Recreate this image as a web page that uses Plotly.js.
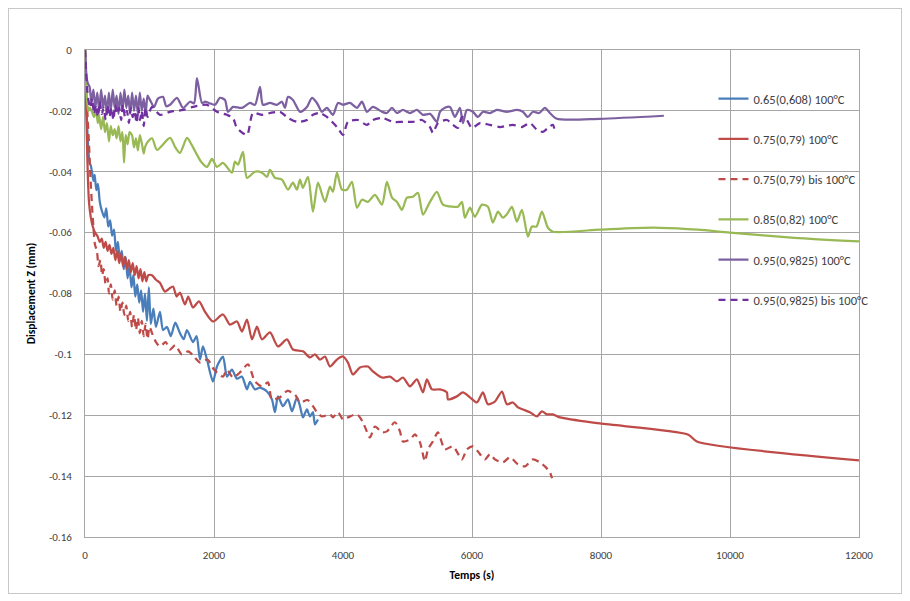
<!DOCTYPE html>
<html>
<head>
<meta charset="utf-8">
<script src="https://cdn.plot.ly/plotly-3.0.1.min.js"></script>
<style>
  html, body { margin: 0; padding: 0; background: #ffffff; }
  #wrap { position: relative; width: 910px; height: 601px; }
  #chart { width: 910px; height: 601px; }
  #frame { position: absolute; left: 8px; top: 8px; width: 892px; height: 584px;
           border: 1px solid #c8c8c8; pointer-events: none; }
</style>
</head>
<body>
<div id="wrap"><div id="chart"></div><div id="frame"></div></div>
<script>
// ---------- DATA (time in s, displacement in mm) ----------
const seriesNames = [
  "0.65(0,608) 100°C",
  "0.75(0,79) 100°C",
  "0.75(0,79) bis 100°C",
  "0.85(0,82) 100°C",
  "0.95(0,9825) 100°C",
  "0.95(0,9825) bis 100°C"
];

const t65 = [0,10,20,35,50,70,90,108,130,150,
  175,200,230,264,300,330,360,390,420,450,
  480,510,540,570,600,630,660,690,720,750,
  780,810,840,870,900,930,960,990,1020,1060,
  1100,1162,1210,1271,1330,1400,1472,1530,1581,1674,
  1730,1783,1829,1891,1984,2046,2139,2201,2278,2356,
  2433,2511,2558,2635,2713,2821,2898,2945,2992,3069,
  3147,3209,3286,3333,3379,3441,3488,3534,3565,3612];
const z65 = [0,-0.008,-0.016,-0.026,-0.032,-0.037,-0.038,-0.040,-0.043,-0.041,
  -0.046,-0.044,-0.050,-0.053,-0.055,-0.052,-0.058,-0.056,-0.061,-0.059,
  -0.066,-0.063,-0.069,-0.066,-0.072,-0.068,-0.075,-0.071,-0.078,-0.074,
  -0.081,-0.077,-0.083,-0.079,-0.086,-0.080,-0.089,-0.078,-0.090,-0.085,
  -0.091,-0.086,-0.092,-0.091,-0.094,-0.0896,-0.093,-0.095,-0.092,-0.096,
  -0.094,-0.1017,-0.0974,-0.1017,-0.1089,-0.104,-0.1007,-0.1073,-0.105,-0.108,
  -0.1073,-0.1115,-0.109,-0.1115,-0.1109,-0.1122,-0.1148,-0.119,-0.1138,-0.117,
  -0.1148,-0.1187,-0.1141,-0.117,-0.1207,-0.1181,-0.1204,-0.119,-0.123,-0.1214];

const t75 = [0,15,30,45,62,90,120,155,190,230,
  260,290,320,350,380,410,440,470,500,530,
  560,590,620,650,680,710,740,770,800,830,
  860,890,920,950,980,1039,1100,1162,1240,1300,
  1364,1420,1472,1550,1600,1674,1767,1860,1984,2139,
  2248,2356,2433,2511,2589,2666,2744,2868,2992,3131,
  3224,3379,3488,3565,3643,3720,3798,3906,4000,4077,
  4154,4263,4387,4464,4604,4728,4836,4929,5038,5146,
  5239,5301,5379,5503,5611,5627,5766,5859,5968,6076,
  6169,6247,6355,6464,6541,6634,6712,6789,6898,7006,
  7084,7161,7254,7363,7983,9346,9486,12000];
const z75 = [0,-0.015,-0.030,-0.042,-0.050,-0.055,-0.058,-0.060,-0.061,-0.063,
  -0.062,-0.065,-0.063,-0.066,-0.064,-0.067,-0.065,-0.069,-0.066,-0.070,
  -0.067,-0.071,-0.068,-0.072,-0.069,-0.073,-0.070,-0.074,-0.071,-0.075,
  -0.072,-0.076,-0.073,-0.076,-0.074,-0.074,-0.0755,-0.0765,-0.0794,-0.0785,
  -0.0777,-0.081,-0.0797,-0.0836,-0.081,-0.0846,-0.0826,-0.086,-0.0892,-0.0869,
  -0.0902,-0.0892,-0.0925,-0.0886,-0.0951,-0.0909,-0.0951,-0.0928,-0.0974,-0.0951,
  -0.0984,-0.099,-0.101,-0.100,-0.1017,-0.1007,-0.104,-0.1017,-0.1007,-0.1027,
  -0.1066,-0.1043,-0.104,-0.1056,-0.1076,-0.1073,-0.1089,-0.1076,-0.1105,-0.1082,
  -0.1125,-0.1082,-0.1115,-0.1115,-0.1125,-0.1148,-0.1138,-0.1125,-0.1141,-0.1158,
  -0.1125,-0.1164,-0.1155,-0.1122,-0.1164,-0.1158,-0.1174,-0.1181,-0.119,-0.1204,
  -0.1187,-0.1197,-0.1197,-0.1207,-0.1227,-0.1263,-0.1286,-0.1348];

const t75b = [0,20,40,62,85,108,130,155,185,210,
  240,264,290,320,350,372,400,430,460,490,
  520,550,580,610,640,670,700,730,760,790,
  820,850,880,910,940,970,1000,1039,1100,1162,
  1250,1318,1400,1500,1600,1700,1783,1900,2000,2139,
  2200,2294,2400,2527,2635,2744,2837,2898,3023,3140,
  3255,3333,3450,3534,3596,3674,3798,3844,3922,4000,
  4077,4216,4309,4418,4495,4604,4681,4805,4883,4929,
  5038,5115,5193,5270,5317,5394,5472,5580,5704,5844,
  5921,6014,6092,6200,6278,6355,6479,6588,6712,6820,
  6944,7053,7130,7208,7240];
const z75b = [0,-0.012,-0.022,-0.031,-0.042,-0.051,-0.058,-0.064,-0.066,-0.071,
  -0.069,-0.074,-0.072,-0.077,-0.075,-0.080,-0.077,-0.082,-0.079,-0.084,
  -0.081,-0.086,-0.083,-0.087,-0.084,-0.089,-0.086,-0.091,-0.087,-0.092,
  -0.088,-0.093,-0.089,-0.094,-0.090,-0.095,-0.091,-0.093,-0.096,-0.0974,
  -0.096,-0.0984,-0.097,-0.100,-0.099,-0.101,-0.1027,-0.1017,-0.105,-0.1073,
  -0.105,-0.1076,-0.106,-0.1033,-0.1089,-0.1105,-0.1092,-0.1148,-0.1141,-0.112,
  -0.1132,-0.1158,-0.115,-0.117,-0.119,-0.1204,-0.1197,-0.1207,-0.119,-0.1214,
  -0.1207,-0.1197,-0.1223,-0.1273,-0.1237,-0.1256,-0.1253,-0.1223,-0.1253,-0.1286,
  -0.128,-0.1263,-0.1289,-0.1351,-0.1312,-0.1286,-0.1256,-0.1312,-0.1302,-0.1345,
  -0.1312,-0.1302,-0.1319,-0.1345,-0.1328,-0.1345,-0.1355,-0.1338,-0.1361,-0.1368,
  -0.1345,-0.1355,-0.1368,-0.1387,-0.1407];

const t85 = [0,10,20,35,50,75,108,140,170,200,
  217,250,280,310,340,372,400,430,460,490,
  520,550,580,605,630,660,690,729,760,790,
  820,850,884,910,930,961,1040,1116,1318,1400,
  1472,1581,1650,1736,1800,1891,1969,2046,2139,2278,
  2325,2372,2449,2511,2635,2744,2821,2868,2945,3054,
  3147,3224,3286,3333,3379,3457,3534,3612,3720,3798,
  3844,3906,3984,4060,4139,4216,4294,4387,4495,4604,
  4681,4759,4836,4914,4991,5084,5162,5239,5348,5456,
  5549,5704,5782,5844,5890,5968,6045,6154,6247,6324,
  6402,6479,6540,6619,6696,6774,6867,6929,7000,7084,
  7177,7254,7983,8500,8913,9500,9998,11000,12000];
const z85 = [0,-0.005,-0.012,-0.017,-0.020,-0.019,-0.0203,-0.022,-0.020,-0.024,
  -0.0213,-0.026,-0.022,-0.027,-0.024,-0.030,-0.025,-0.028,-0.026,-0.029,
  -0.025,-0.030,-0.027,-0.037,-0.028,-0.031,-0.027,-0.028,-0.032,-0.029,
  -0.033,-0.028,-0.031,-0.034,-0.032,-0.0305,-0.029,-0.0328,-0.0289,-0.032,
  -0.0338,-0.0289,-0.031,-0.0344,-0.0367,-0.0384,-0.0358,-0.0384,-0.0371,-0.0403,
  -0.0367,-0.0377,-0.0335,-0.042,-0.040,-0.0403,-0.0417,-0.0394,-0.042,-0.0426,
  -0.0459,-0.0436,-0.0459,-0.0426,-0.0453,-0.0417,-0.0531,-0.0436,-0.0499,-0.0449,
  -0.0466,-0.0403,-0.0459,-0.0459,-0.0433,-0.0518,-0.0492,-0.0499,-0.0476,-0.0508,
  -0.0433,-0.0485,-0.0499,-0.0525,-0.0485,-0.0482,-0.0469,-0.0541,-0.0499,-0.0466,
  -0.0508,-0.0515,-0.0515,-0.0499,-0.0551,-0.0518,-0.0548,-0.0508,-0.0515,-0.0567,
  -0.0531,-0.0551,-0.054,-0.0515,-0.0564,-0.0525,-0.0613,-0.058,-0.058,-0.0531,
  -0.0584,-0.0597,-0.059,-0.0585,-0.0584,-0.059,-0.060,-0.0617,-0.0629];

const t95 = [0,10,25,45,70,100,130,160,190,220,
  250,280,310,340,370,400,430,460,490,520,
  550,580,610,640,670,700,730,760,790,820,
  850,880,910,940,970,1007,1070,1130,1209,1260,
  1318,1426,1519,1627,1690,1736,1814,1860,1922,2015,
  2093,2170,2217,2294,2433,2558,2635,2713,2759,2868,
  2976,3054,3100,3147,3224,3333,3441,3519,3596,3674,
  3750,3844,3922,4000,4108,4216,4294,4371,4464,4604,
  4681,4759,4836,4929,5038,5146,5239,5350,5456,5503,
  5580,5658,5735,5813,5859,5921,6014,6092,6169,6278,
  6386,6541,6696,6789,6867,6944,7040,7130,7208,7316,
  7983,8975];
const z95 = [0,-0.004,-0.009,-0.011,-0.012,-0.017,-0.013,-0.019,-0.014,-0.020,
  -0.013,-0.019,-0.015,-0.021,-0.014,-0.020,-0.013,-0.019,-0.015,-0.021,
  -0.014,-0.020,-0.013,-0.019,-0.015,-0.021,-0.014,-0.020,-0.015,-0.021,
  -0.014,-0.020,-0.016,-0.021,-0.015,-0.0164,-0.0187,-0.016,-0.0154,-0.0185,
  -0.018,-0.0157,-0.019,-0.017,-0.0175,-0.0092,-0.0174,-0.017,-0.0174,-0.018,
  -0.0157,-0.0164,-0.0203,-0.0187,-0.019,-0.0174,-0.018,-0.0121,-0.018,-0.0174,
  -0.018,-0.017,-0.019,-0.0154,-0.0164,-0.0203,-0.0187,-0.0157,-0.0174,-0.0203,
  -0.019,-0.0213,-0.0174,-0.018,-0.0174,-0.019,-0.017,-0.0203,-0.0187,-0.0203,
  -0.0207,-0.019,-0.0207,-0.0197,-0.0207,-0.0197,-0.0213,-0.021,-0.0236,-0.0203,
  -0.019,-0.0187,-0.022,-0.019,-0.024,-0.0197,-0.0203,-0.022,-0.0203,-0.0207,
  -0.0197,-0.0203,-0.0197,-0.0203,-0.022,-0.0203,-0.0207,-0.019,-0.0207,-0.0226,
  -0.0226,-0.0216];

const t95b = [0,15,30,50,80,110,140,170,200,230,
  260,290,320,350,380,410,440,470,500,530,
  560,590,620,650,680,710,740,770,800,830,
  853,880,910,940,970,1039,1162,1318,1519,1674,
  1891,2046,2201,2294,2356,2511,2604,2744,2868,3023,
  3147,3286,3441,3534,3643,3751,3906,4000,4077,4232,
  4371,4464,4604,4774,4929,5084,5224,5348,5394,5472,
  5611,5704,5782,5844,5921,5999,6123,6278,6433,6634,
  6774,6898,7006,7099,7177,7254,7285];
const z95b = [0,-0.006,-0.012,-0.016,-0.019,-0.016,-0.021,-0.018,-0.022,-0.017,
  -0.021,-0.019,-0.023,-0.018,-0.022,-0.019,-0.023,-0.018,-0.021,-0.019,
  -0.023,-0.018,-0.022,-0.020,-0.024,-0.019,-0.022,-0.020,-0.024,-0.019,
  -0.023,-0.020,-0.025,-0.019,-0.022,-0.0187,-0.0213,-0.0203,-0.0197,-0.0187,
  -0.018,-0.0203,-0.0213,-0.0223,-0.0256,-0.0279,-0.0207,-0.0213,-0.0207,-0.0203,
  -0.0223,-0.0236,-0.023,-0.0213,-0.0207,-0.022,-0.0253,-0.0279,-0.0236,-0.023,
  -0.0246,-0.023,-0.0223,-0.0236,-0.0236,-0.0236,-0.023,-0.0253,-0.0272,-0.024,
  -0.023,-0.0246,-0.0256,-0.022,-0.023,-0.0256,-0.024,-0.0246,-0.0253,-0.0246,
  -0.0253,-0.024,-0.0262,-0.0269,-0.0256,-0.0246,-0.0269];

const xTickVals = [0,2000,4000,6000,8000,10000,12000];
const yTickVals = [0,-0.02,-0.04,-0.06,-0.08,-0.1,-0.12,-0.14,-0.16];
const xTitle = "Temps (s)";
const yTitle = "Displacement Z (mm)";

// ---------- STYLE ----------
const xs = [t65, t75, t75b, t85, t95, t95b];
const ys = [z65, z75, z75b, z85, z95, z95b];
const colors = ["#4a7ebb", "#be4b48", "#be4b48", "#98b954", "#7d60a0", "#7030a0"];
const dashes = ["solid", "solid", "7px,5px", "solid", "solid", "7px,5px"];

const font = "Carlito, Calibri, 'Liberation Sans', Arial, sans-serif";

const traces = xs.map((x, i) => ({
  type: "scatter",
  mode: "lines",
  x: x,
  y: ys[i],
  name: seriesNames[i],
  legendgroup: "g" + i,
  line: { color: colors[i], width: 2.25, dash: dashes[i], shape: "spline", smoothing: 0.7 }
}));

const layout = {
  width: 910,
  height: 601,
  margin: { l: 85, r: 51, t: 50, b: 64 },
  paper_bgcolor: "#ffffff",
  plot_bgcolor: "#ffffff",
  font: { family: font, size: 11, color: "#404040" },
  showlegend: true,
  legend: {
    x: 0.812, xanchor: "left",
    y: 0.93, yanchor: "top",
    bgcolor: "rgba(0,0,0,0)",
    borderwidth: 0,
    traceorder: "grouped",
    tracegroupgap: 21,
    font: { family: font, size: 12.5, color: "#404040" }
  },
  xaxis: {
    range: [0, 12000],
    tickvals: xTickVals,
    ticktext: xTickVals.map(String),
    showgrid: true,
    gridcolor: "#a6a6a6",
    gridwidth: 1,
    zeroline: false,
    showline: true,
    linecolor: "#a6a6a6",
    linewidth: 1,
    mirror: true,
    ticks: "",
    ticklabelstandoff: 8,
    tickfont: { family: font, size: 11, color: "#404040" },
    title: { text: "<b>" + xTitle + "</b>", font: { family: font, size: 11.5, color: "#000000" }, standoff: 9 }
  },
  yaxis: {
    range: [-0.16, 0],
    tickvals: yTickVals,
    ticktext: yTickVals.map(v => String(v)),
    showgrid: true,
    gridcolor: "#a6a6a6",
    gridwidth: 1,
    zeroline: false,
    showline: true,
    linecolor: "#a6a6a6",
    linewidth: 1,
    mirror: true,
    ticks: "",
    ticklabelstandoff: 10,
    tickfont: { family: font, size: 11, color: "#404040" },
    title: { text: "<b>" + yTitle + "</b>", font: { family: font, size: 11.5, color: "#000000" }, standoff: 10 }
  }
};

Plotly.newPlot("chart", traces, layout, { displayModeBar: false, staticPlot: true });
</script>
</body>
</html>
